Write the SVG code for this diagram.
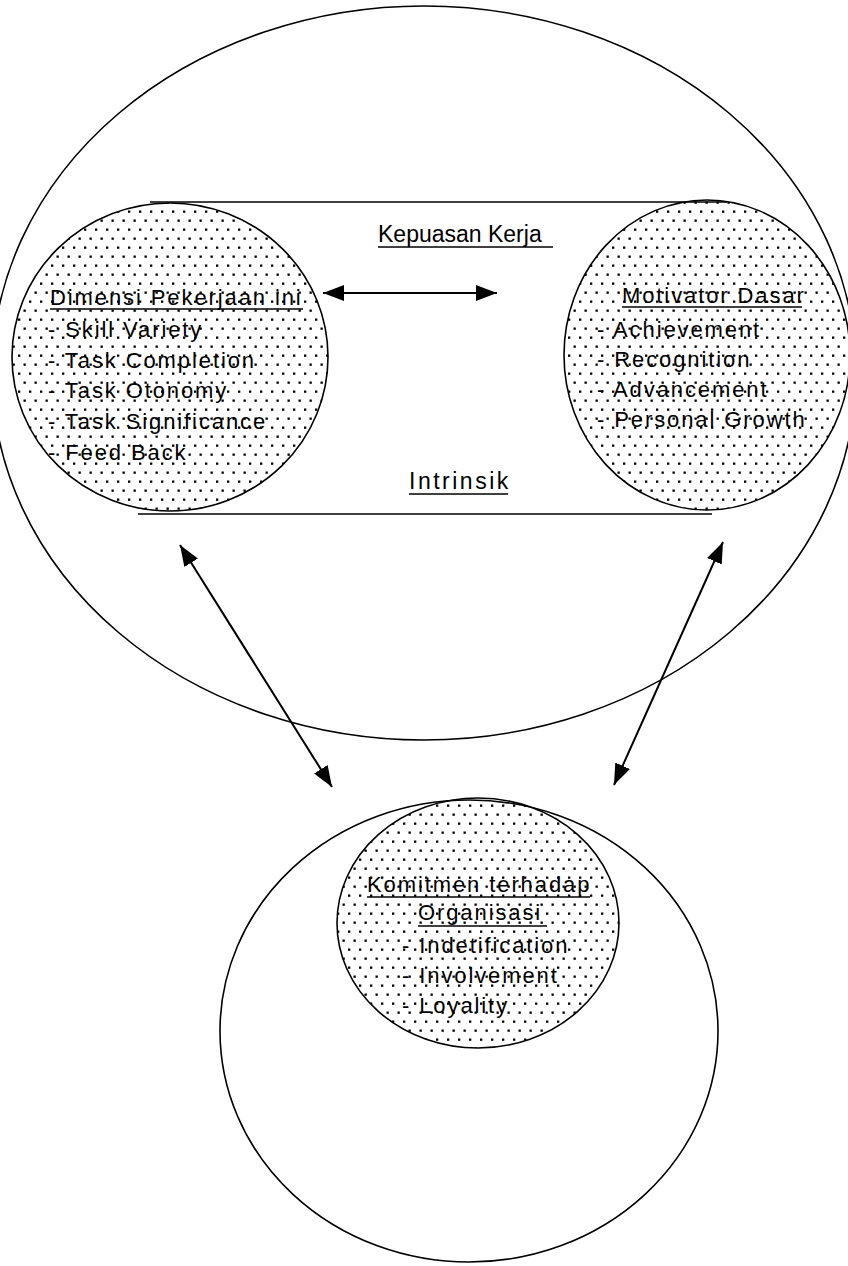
<svg xmlns="http://www.w3.org/2000/svg" width="848" height="1266" viewBox="0 0 848 1266">
<style>
.ln{fill:none;stroke:#000;stroke-width:1.6}
.dot{fill:url(#dots);stroke:#000;stroke-width:1.6}
.t{font-family:"Liberation Sans",Arial,sans-serif;font-size:22px;letter-spacing:1.9px;fill:#000}
.h{font-family:"Liberation Sans",Arial,sans-serif;font-size:23px;fill:#000}
.ul{stroke:#000;stroke-width:1.5}
.arr{stroke:#000;stroke-width:2;fill:none;marker-start:url(#ah);marker-end:url(#ah)}
</style>
<defs>
<pattern id="dots" width="11" height="18" patternUnits="userSpaceOnUse">
<rect x="1.5" y="3.5" width="2.3" height="2.3" fill="#000"/>
<rect x="7" y="12.5" width="2.3" height="2.3" fill="#000"/>
</pattern>
<marker id="ah" markerWidth="24" markerHeight="18" refX="21" refY="8" orient="auto-start-reverse" markerUnits="userSpaceOnUse">
<path d="M0,0 L21,8 L0,16 z" fill="#000"/>
</marker>
</defs>
<rect width="848" height="1266" fill="#fff"/>

<g id="kepuasan-kerja">
<ellipse class="ln" cx="424" cy="373" rx="432" ry="367"/>
<line class="ln" x1="150" y1="202" x2="727" y2="202"/>
<line class="ln" x1="138" y1="514" x2="712" y2="514"/>
<text class="h" x="378" y="242">Kepuasan Kerja</text>
<line class="ul" x1="378" y1="247" x2="553" y2="247"/>
<text class="h" x="409" y="489" style="letter-spacing:2.5px">Intrinsik</text>
<line class="ul" x1="409" y1="494" x2="508" y2="494"/>
</g>

<g id="dimensi-pekerjaan">
<ellipse class="dot" cx="170" cy="357" rx="158" ry="154"/>
<text class="t" x="50" y="305">Dimensi Pekerjaan ini</text>
<line class="ul" x1="50" y1="309" x2="303" y2="309"/>
<text class="t" x="48" y="337">- Skill Variety</text>
<text class="t" x="48" y="368">- Task Completion</text>
<text class="t" x="48" y="398">- Task Otonomy</text>
<text class="t" x="48" y="429">- Task Significance</text>
<text class="t" x="48" y="460">- Feed Back</text>
</g>

<g id="motivator-dasar">
<ellipse class="dot" cx="707" cy="355" rx="143" ry="155"/>
<text class="t" x="622" y="303">Motivator Dasar</text>
<line class="ul" x1="622" y1="307" x2="802" y2="307"/>
<text class="t" x="597" y="337">- Achievement</text>
<text class="t" x="597" y="367">- Recognition</text>
<text class="t" x="597" y="397">- Advancement</text>
<text class="t" x="597" y="427">- Personal Growth</text>
</g>

<g id="komitmen-organisasi">
<ellipse class="ln" cx="469" cy="1031" rx="249" ry="231"/>
<ellipse class="dot" cx="478" cy="923" rx="141" ry="125"/>
<text class="t" x="367" y="892">Komitmen terhadap</text>
<line class="ul" x1="367" y1="897" x2="590" y2="897"/>
<text class="t" x="418" y="920">Organisasi</text>
<line class="ul" x1="418" y1="926" x2="547" y2="926"/>
<text class="t" x="402" y="953">- Indetification</text>
<text class="t" x="402" y="983">- Involvement</text>
<text class="t" x="402" y="1013">- Loyality</text>
</g>

<g id="connectors">
<line class="arr" x1="323" y1="293" x2="497" y2="293"/>
<line class="arr" x1="180" y1="545" x2="332" y2="787"/>
<line class="arr" x1="723" y1="542" x2="614" y2="785"/>
</g>
</svg>
